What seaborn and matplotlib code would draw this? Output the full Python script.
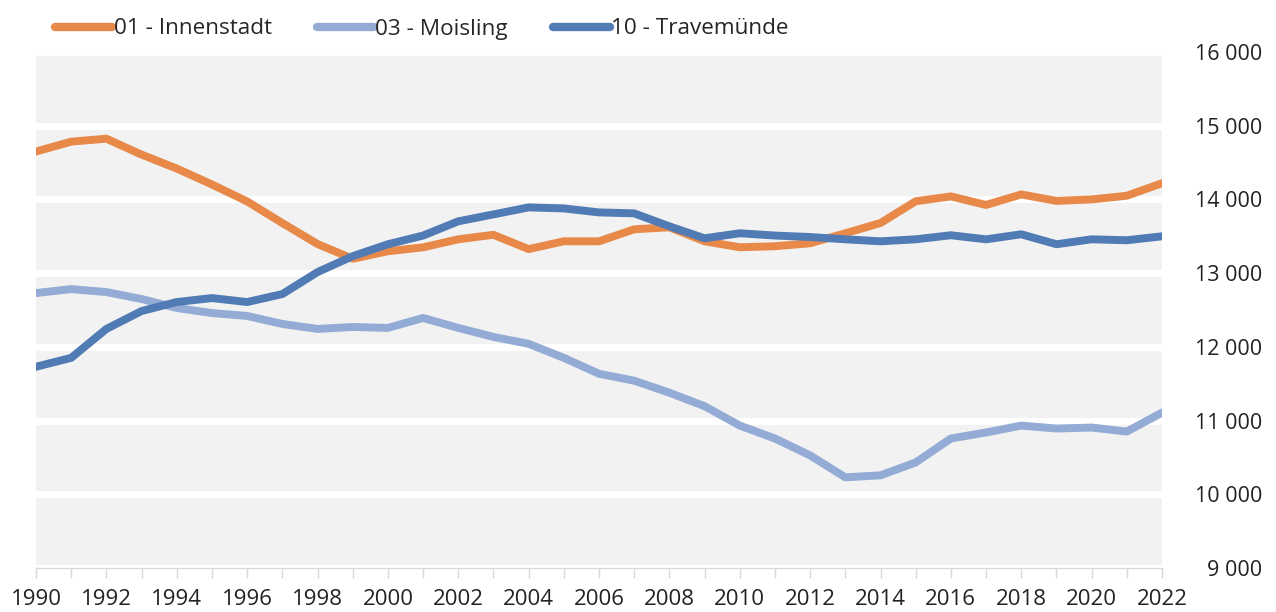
import numpy as np
import pandas as pd
import seaborn as sns
import matplotlib.pyplot as plt
import matplotlib.ticker as mticker

years = list(range(1990, 2023))

innenstadt = [14650, 14784, 14824, 14608, 14419, 14203, 13973, 13680, 13395, 13195,
              13297, 13350, 13459, 13520, 13326, 13432, 13432, 13595, 13622, 13432,
              13351, 13365, 13405, 13541, 13680, 13975, 14041, 13925, 14068, 13980,
              14000, 14050, 14220]
moisling = [12730, 12784, 12743, 12649, 12527, 12459, 12419, 12311, 12243, 12270,
            12257, 12392, 12257, 12135, 12041, 11851, 11635, 11541, 11378, 11195,
            10932, 10757, 10527, 10230, 10257, 10432, 10757, 10838, 10932, 10892,
            10905, 10851, 11108]
travemuende = [11730, 11851, 12243, 12486, 12608, 12662, 12608, 12716, 13014, 13230,
               13392, 13510, 13703, 13797, 13892, 13878, 13824, 13811, 13635, 13473,
               13541, 13510, 13490, 13459, 13432, 13459, 13514, 13459, 13527, 13392,
               13459, 13446, 13500]

series_names = ['01 - Innenstadt', '03 - Moisling', '10 - Travemünde']
colors = ['#E8894A', '#93ABD5', '#517BB4']

df = pd.DataFrame({
    'Jahr': years * 3,
    'Einwohner': innenstadt + moisling + travemuende,
    'Stadtteil': [series_names[0]] * len(years) + [series_names[1]] * len(years) + [series_names[2]] * len(years),
})

sns.set_style('white')
plt.rcParams['font.family'] = ['Open Sans', 'DejaVu Sans']

fig = plt.figure(figsize=(12.76, 6.12), dpi=100)
ax = fig.add_axes([36 / 1276, 1 - 568 / 612, (1162 - 36) / 1276, (568 - 52) / 612])
ax.set_facecolor('#F2F2F2')

sns.lineplot(data=df, x='Jahr', y='Einwohner', hue='Stadtteil', palette=colors,
             linewidth=5.7, ax=ax, legend=True)
for line in ax.lines:
    line.set_solid_joinstyle('round')

ax.set_xlim(1990, 2022)
ax.set_ylim(9000, 16000)
ax.set_xlabel('')
ax.set_ylabel('')

# white horizontal gridlines
ax.yaxis.set_major_locator(mticker.MultipleLocator(1000))
ax.grid(axis='y', color='white', linewidth=5)
ax.grid(axis='x', visible=False)
ax.set_axisbelow(True)

ax.yaxis.tick_right()
ax.yaxis.set_major_formatter(mticker.FuncFormatter(lambda v, p: f'{int(v):,}'.replace(',', ' ')))
ax.tick_params(axis='y', length=0, pad=72, labelsize=15.5, labelcolor='#222222')
for lbl in ax.get_yticklabels():
    lbl.set_horizontalalignment('right')

ax.xaxis.set_major_locator(mticker.MultipleLocator(2))
ax.xaxis.set_minor_locator(mticker.MultipleLocator(1))
ax.xaxis.set_major_formatter(mticker.FormatStrFormatter('%d'))
ax.tick_params(axis='x', which='both', direction='out', length=7, width=1, color='#D9D9D9',
               bottom=True, labelsize=16, labelcolor='#222222', pad=8)

for side in ['top', 'left', 'right']:
    ax.spines[side].set_visible(False)
ax.spines['bottom'].set_color('#D9D9D9')
ax.spines['bottom'].set_linewidth(1)

handles, labels = ax.get_legend_handles_labels()
ax.get_legend().remove()
leg = fig.legend(handles, labels, loc='center left', bbox_to_anchor=(55 / 1276, 1 - 29 / 612),
                 ncol=3, frameon=False, fontsize=16.2, handlelength=2.55, handletextpad=0.05,
                 columnspacing=2.0, borderpad=0, borderaxespad=0)
for h in leg.get_lines():
    h.set_linewidth(6)
    h.set_solid_capstyle('round')

fig.savefig('out.png', dpi=100)
